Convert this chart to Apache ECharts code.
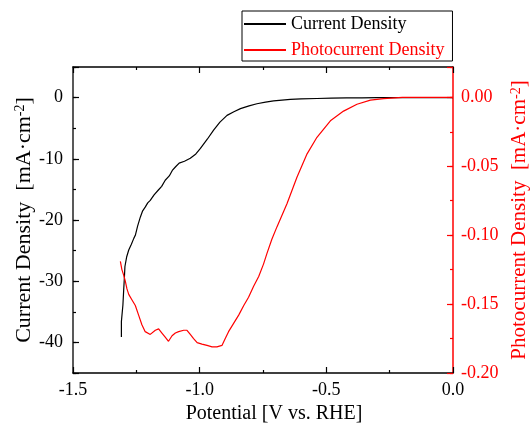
<!DOCTYPE html>
<html><head><meta charset="utf-8">
<script src="https://cdn.jsdelivr.net/npm/echarts@6/dist/echarts.min.js"></script>
<style>html,body{margin:0;padding:0;background:#fff}#c{width:530px;height:426px}</style>
</head><body><div id="c"></div>
<script>
// Current density (black, left axis)
const potentialCurrent = [-1.309,-1.309,-1.305,-1.303,-1.300,-1.297,-1.295,-1.288,-1.280,-1.270,-1.260,-1.254,-1.245,-1.234,-1.225,-1.215,-1.205,-1.195,-1.180,-1.163,-1.150,-1.136,-1.120,-1.108,-1.095,-1.081,-1.060,-1.037,-1.015,-0.997,-0.970,-0.945,-0.920,-0.892,-0.865,-0.839,-0.805,-0.774,-0.740,-0.708,-0.675,-0.642,-0.600,-0.537,-0.480,-0.420,-0.360,-0.300,-0.200,-0.100,0.000];
const currentDensity = [-39.1,-36.6,-36.3,-33.9,-31.5,-29.3,-27.6,-26.0,-24.9,-24.0,-23.0,-22.5,-21.0,-19.5,-18.5,-17.9,-17.2,-16.8,-15.9,-15.1,-14.5,-13.5,-12.8,-11.9,-11.3,-10.7,-10.4,-9.9,-9.2,-8.3,-6.8,-5.3,-4.0,-2.9,-2.3,-1.8,-1.35,-1.0,-0.75,-0.55,-0.4,-0.28,-0.2,-0.15,-0.1,-0.06,-0.03,-0.02,-0.01,0,0];
// Photocurrent density (red, right axis)
const potentialPhoto = [-1.313,-1.307,-1.300,-1.294,-1.287,-1.280,-1.267,-1.254,-1.241,-1.228,-1.215,-1.195,-1.175,-1.162,-1.149,-1.136,-1.123,-1.109,-1.096,-1.083,-1.063,-1.050,-1.037,-1.024,-1.010,-0.991,-0.971,-0.951,-0.932,-0.912,-0.899,-0.886,-0.866,-0.846,-0.826,-0.807,-0.787,-0.767,-0.748,-0.734,-0.715,-0.695,-0.655,-0.616,-0.576,-0.537,-0.484,-0.432,-0.379,-0.326,-0.274,-0.200,-0.100,0.000];
const photocurrentDensity = [-0.119,-0.125,-0.129,-0.133,-0.139,-0.143,-0.147,-0.151,-0.158,-0.165,-0.170,-0.172,-0.169,-0.168,-0.171,-0.174,-0.177,-0.173,-0.171,-0.170,-0.169,-0.169,-0.172,-0.175,-0.178,-0.179,-0.180,-0.181,-0.181,-0.180,-0.175,-0.170,-0.164,-0.158,-0.151,-0.145,-0.137,-0.130,-0.121,-0.113,-0.103,-0.094,-0.077,-0.058,-0.041,-0.029,-0.017,-0.010,-0.005,-0.002,-0.001,0,0,0];
const seriesNames = ['Current Density','Photocurrent Density'];

const F = 'Liberation Serif';
const RED = '#ff0000';
const chart = echarts.init(document.getElementById('c'));
const isMult = (v, s) => Math.abs(Math.round(v / s) * s - v) < 1e-9;

chart.setOption({
  animation: false,
  backgroundColor: '#fff',
  grid: { left: 73, right: 77, top: 67, bottom: 53, outerBoundsMode: 'none', containLabel: false },
  legend: {
    orient: 'vertical', left: 242, top: 11,
    borderColor: '#000', borderWidth: 1, borderRadius: 0,
    padding: [4, 8, 2, 1],
    itemWidth: 42, itemHeight: 14, itemGap: 8,
    itemStyle: { opacity: 0 },
    textStyle: { fontFamily: F, fontSize: 18, color: '#000' },
    data: [
      { name: seriesNames[0] },
      { name: seriesNames[1], textStyle: { color: RED } }
    ]
  },
  xAxis: [
    {
      type: 'value', position: 'bottom', min: -1.5, max: 0, interval: 0.5,
      axisLine: { onZero: false, lineStyle: { color: '#000', width: 1.5 } },
      axisTick: { inside: true, length: 6, lineStyle: { color: '#000', width: 1.2 } },
      minorTick: { show: true, splitNumber: 2, length: 3, lineStyle: { color: '#000', width: 1.2 } },
      splitLine: { show: false },
      axisLabel: { margin: 8, fontFamily: F, fontSize: 18, color: '#000', formatter: v => v.toFixed(1) },
      name: 'Potential [V vs. RHE]', nameLocation: 'middle', nameGap: 30,
      nameTextStyle: { fontFamily: F, fontSize: 20, color: '#000', padding: [0, 0, 0, 22] }
    },
    {
      type: 'value', position: 'top', min: -1.5, max: 0, interval: 0.5,
      axisLine: { onZero: false, lineStyle: { color: '#000', width: 1.5 } },
      axisTick: { inside: true, length: 6, lineStyle: { color: '#000', width: 1.2 } },
      minorTick: { show: true, splitNumber: 2, length: 3, lineStyle: { color: '#000', width: 1.2 } },
      splitLine: { show: false },
      axisLabel: { show: false }
    }
  ],
  yAxis: [
    {
      type: 'value', position: 'left', min: -45, max: 5, interval: 5,
      axisLine: { show: true, onZero: false, lineStyle: { color: '#222', width: 1.5 } },
      axisTick: { inside: true, length: 3, lineStyle: { color: '#000', width: 1.2 } },
      splitLine: { show: false },
      axisLabel: { margin: 10, fontFamily: F, fontSize: 18, color: '#000',
        formatter: v => isMult(v, 10) ? String(Math.round(v)) : '' },
      name: '{t|Current Density  [mA·cm}{s|-2}{t|]}', nameLocation: 'middle', nameGap: 38, nameRotate: 90,
      nameMoveOverlap: false,
      nameTextStyle: { color: '#000', rich: {
        t: { fontFamily: F, fontSize: 22, color: '#000' },
        s: { fontFamily: F, fontSize: 14, color: '#000', verticalAlign: 'top' } } }
    },
    {
      type: 'value', position: 'right', min: -0.2, max: 0.022, interval: 0.025,
      axisLine: { show: true, onZero: false, lineStyle: { color: RED, width: 1.5 } },
      axisTick: { inside: true, length: 3, lineStyle: { color: RED, width: 1.2 } },
      splitLine: { show: false },
      axisLabel: { margin: 8, fontFamily: F, fontSize: 18, color: RED,
        formatter: v => isMult(v, 0.05) ? v.toFixed(2) : '' },
      name: '{t|Photocurrent Density  [mA·cm}{s|-2}{t|]}', nameLocation: 'middle', nameGap: 56, nameRotate: 90,
      nameTextStyle: { color: RED, rich: {
        t: { fontFamily: F, fontSize: 21, color: RED },
        s: { fontFamily: F, fontSize: 14, color: RED, verticalAlign: 'top' } } }
    },
    {
      type: 'value', position: 'left', min: -45, max: 5, splitNumber: 5,
      axisLine: { show: false, onZero: false }, splitLine: { show: false }, axisLabel: { show: false },
      axisTick: { inside: true, length: 6, lineStyle: { color: '#000', width: 1.2 } }
    },
    {
      type: 'value', position: 'right', min: -0.2, max: 0.022, interval: 0.05,
      axisLine: { show: false, onZero: false }, splitLine: { show: false }, axisLabel: { show: false },
      axisTick: { inside: true, length: 6, lineStyle: { color: RED, width: 1.2 } }
    }
  ],
  series: [
    {
      name: seriesNames[0], type: 'line', xAxisIndex: 0, yAxisIndex: 0,
      symbol: 'none', color: '#000', lineStyle: { color: '#000', width: 1.2 },
      data: potentialCurrent.map((p, i) => [p, currentDensity[i]])
    },
    {
      name: seriesNames[1], type: 'line', xAxisIndex: 0, yAxisIndex: 1,
      symbol: 'none', color: RED, lineStyle: { color: RED, width: 1.2 },
      data: potentialPhoto.map((p, i) => [p, photocurrentDensity[i]])
    }
  ]
});
</script>
</body></html>
